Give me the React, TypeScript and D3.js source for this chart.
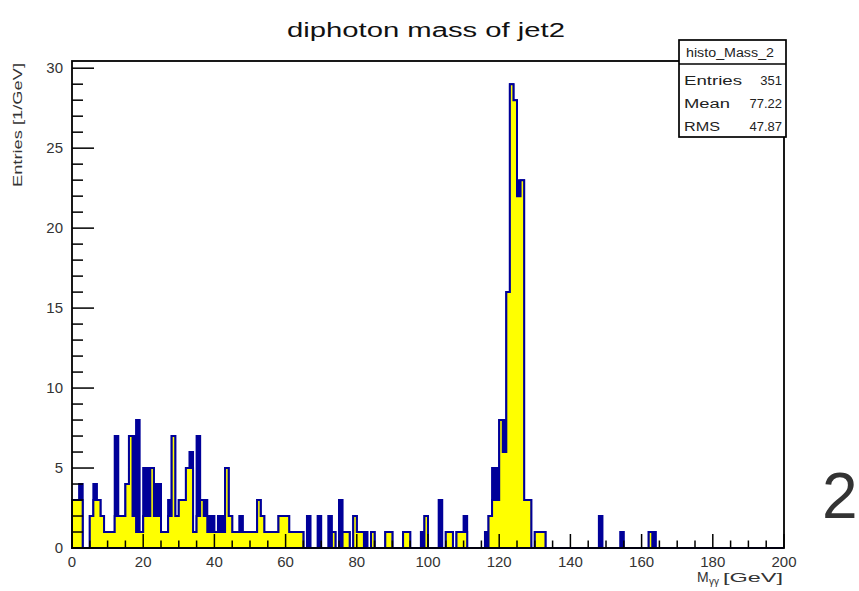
import React from "react";
import * as d3 from "d3";

// Bin contents, 1 GeV bins from 0 to 200 GeV (index = lower edge in GeV)
const blueCounts: number[] = [
  3, 3, 4, 0, 0, 2, 4, 3, 2, 1, 1, 1, 7, 2, 2, 4, 7, 7, 8, 1,
  5, 5, 5, 4, 4, 1, 1, 3, 7, 2, 3, 3, 5, 6, 1, 7, 3, 3, 2, 2,
  1, 2, 2, 5, 2, 1, 1, 2, 1, 1, 1, 1, 3, 2, 1, 1, 1, 1, 2, 2,
  2, 1, 1, 1, 1, 0, 2, 0, 0, 2, 0, 0, 2, 1, 0, 3, 1, 1, 0, 2,
  1, 1, 1, 0, 1, 0, 0, 0, 1, 1, 0, 0, 0, 1, 1, 0, 0, 0, 1, 2,
  0, 0, 0, 3, 0, 1, 1, 0, 1, 1, 2, 0, 0, 0, 0, 0, 1, 2, 5, 5,
  8, 8, 16, 29, 28, 23, 23, 3, 3, 0, 1, 1, 1, 0, 0, 0, 0, 0, 0, 0,
  0, 0, 0, 0, 0, 0, 0, 0, 2, 0, 0, 0, 0, 0, 1, 0, 0, 0, 0, 0,
  0, 0, 1, 1, 0, 0, 0, 0, 0, 0, 0, 0, 0, 0, 0, 0, 0, 0, 0, 0,
  0, 0, 0, 0, 0, 0, 0, 0, 0, 0, 0, 0, 0, 0, 0, 0, 0, 0, 0, 0,
];

const yellowCounts: number[] = [
  3, 3, 3, 0, 0, 2, 3, 3, 2, 1, 1, 1, 2, 2, 2, 4, 7, 2, 1, 1,
  2, 2, 5, 2, 2, 1, 1, 2, 7, 2, 3, 3, 5, 5, 1, 2, 3, 2, 1, 1,
  1, 1, 1, 5, 2, 1, 1, 1, 1, 1, 1, 1, 3, 2, 1, 1, 1, 1, 2, 2,
  2, 1, 1, 1, 1, 0, 0, 0, 0, 0, 0, 0, 0, 1, 0, 0, 1, 1, 0, 2,
  1, 1, 0, 0, 1, 0, 0, 0, 1, 1, 0, 0, 0, 1, 1, 0, 0, 0, 0, 2,
  0, 0, 0, 0, 0, 1, 1, 0, 1, 1, 1, 0, 0, 0, 0, 0, 0, 2, 3, 3,
  8, 6, 16, 29, 28, 22, 23, 3, 3, 0, 1, 1, 1, 0, 0, 0, 0, 0, 0, 0,
  0, 0, 0, 0, 0, 0, 0, 0, 0, 0, 0, 0, 0, 0, 0, 0, 0, 0, 0, 0,
  0, 0, 1, 0, 0, 0, 0, 0, 0, 0, 0, 0, 0, 0, 0, 0, 0, 0, 0, 0,
  0, 0, 0, 0, 0, 0, 0, 0, 0, 0, 0, 0, 0, 0, 0, 0, 0, 0, 0, 0,
];

const xMajorTicks = [0, 20, 40, 60, 80, 100, 120, 140, 160, 180, 200];
const yMajorTicks = [0, 5, 10, 15, 20, 25, 30];
const statLabels = ["Entries", "Mean", "RMS"];
const statLabelWidths = [58, 46, 36];
const statValues = ["351", "77.22", "47.87"];

const FONT = "'Liberation Sans', Arial, Helvetica, sans-serif";
const NAVY = "#000099";

const left = 72;
const right = 784;
const top = 61;
const bottom = 548;

export default function App() {
  const x = d3.scaleLinear().domain([0, 200]).range([left, right]);
  const y = d3.scaleLinear().domain([0, 30.45]).range([bottom, top]);

  const mkPath = (counts: number[]) => {
    const pts = counts.map((v, i) => [i, v] as [number, number]);
    pts.push([counts.length, counts[counts.length - 1]]);
    const area = d3
      .area<[number, number]>()
      .x((d) => x(d[0]))
      .y0(y(0))
      .y1((d) => y(d[1]))
      .curve(d3.curveStepAfter);
    return area(pts) || "";
  };

  const xMinor = d3.range(0, 201, 5).filter((v) => v % 20 !== 0);
  const yMinor = d3.range(0, 31, 1).filter((v) => v % 5 !== 0);

  return (
    <svg
      width={859}
      height={591}
      style={{ position: "absolute", left: 0, top: 0, background: "#fff" }}
      fontFamily={FONT}
    >
      <rect x={0} y={0} width={859} height={591} fill="#fff" />
      {/* Title */}
      <text
        x={287}
        y={37}
        fontSize={20}
        fill="#111"
        textLength={278}
        lengthAdjust="spacingAndGlyphs"
      >
        diphoton mass of jet2
      </text>

      {/* Histograms */}
      <path d={mkPath(blueCounts)} fill={NAVY} stroke={NAVY} strokeWidth={2} />
      <path d={mkPath(yellowCounts)} fill="#ffff00" stroke={NAVY} strokeWidth={2} />

      {/* Frame */}
      <rect
        x={left}
        y={top}
        width={right - left}
        height={bottom - top}
        fill="none"
        stroke="#000"
        strokeWidth={1.8}
      />

      {/* X ticks */}
      {xMajorTicks.map((t) => (
        <line key={"xM" + t} x1={x(t)} x2={x(t)} y1={bottom} y2={bottom - 14} stroke="#000" strokeWidth={1.5} />
      ))}
      {xMinor.map((t) => (
        <line key={"xm" + t} x1={x(t)} x2={x(t)} y1={bottom} y2={bottom - 7.5} stroke="#000" strokeWidth={1.5} />
      ))}
      {xMajorTicks.map((t) => (
        <text key={"xl" + t} x={x(t)} y={567} textAnchor="middle" fontSize={15} fill="#333">
          {t}
        </text>
      ))}

      {/* Y ticks */}
      {yMajorTicks.map((t) => (
        <line key={"yM" + t} x1={left} x2={left + 22} y1={y(t)} y2={y(t)} stroke="#000" strokeWidth={1.5} />
      ))}
      {yMinor.map((t) => (
        <line key={"ym" + t} x1={left} x2={left + 11} y1={y(t)} y2={y(t)} stroke="#000" strokeWidth={1.5} />
      ))}
      {yMajorTicks.map((t) => (
        <text key={"yl" + t} x={63} y={y(t) + 5} textAnchor="end" fontSize={15} fill="#333">
          {t}
        </text>
      ))}

      {/* Axis titles */}
      <text
        transform={`translate(22,${top + 126}) rotate(-90)`}
        fontSize={12.5}
        fill="#333"
        textLength={124}
        lengthAdjust="spacingAndGlyphs"
      >
        Entries [1/GeV]
      </text>
      <text x={697} y={582} fontSize={14} fill="#333">
        M
      </text>
      <text x={709} y={585} fontSize={10} fill="#333">
        γγ
      </text>
      <text
        x={723}
        y={582}
        fontSize={13}
        fill="#333"
        textLength={60}
        lengthAdjust="spacingAndGlyphs"
      >
        [GeV]
      </text>

      {/* Stats box */}
      <rect x={679} y={40} width={107} height={97} fill="#fff" stroke="#000" strokeWidth={1.7} />
      <line x1={679} x2={786} y1={64} y2={64} stroke="#000" strokeWidth={1.5} />
      <text
        x={686}
        y={57}
        fontSize={12.5}
        fill="#222"
        textLength={88}
        lengthAdjust="spacingAndGlyphs"
      >
        histo_Mass_2
      </text>
      {statLabels.map((s, i) => (
        <text
          key={"sl" + s}
          x={684}
          y={85 + i * 23}
          fontSize={12.5}
          fill="#222"
          textLength={statLabelWidths[i]}
          lengthAdjust="spacingAndGlyphs"
        >
          {s}
        </text>
      ))}
      {statValues.map((s, i) => (
        <text key={"sv" + s} x={782} y={85 + i * 23} textAnchor="end" fontSize={13} fill="#222">
          {s}
        </text>
      ))}

      {/* Large glyph at the right edge */}
      <text x={822} y={518} fontSize={64} fill="#333">
        2
      </text>
    </svg>
  );
}
